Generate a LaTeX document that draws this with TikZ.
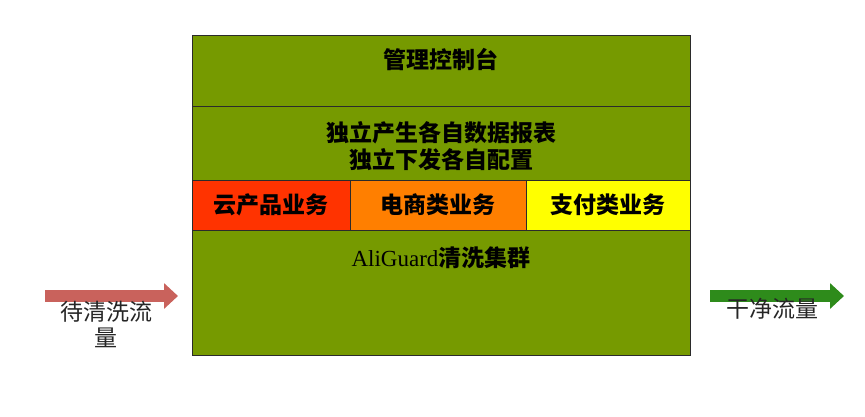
\documentclass[tikz,border=0pt]{standalone}
\usepackage{fontspec}
\setmainfont{Liberation Serif}
\newfontfamily\cjk{Noto Sans CJK SC}
\usetikzlibrary{arrows.meta,positioning}
\definecolor{leaf}{HTML}{769A00}
\definecolor{rust}{HTML}{FF3300}
\definecolor{amber}{HTML}{FF7F00}
\definecolor{lemon}{HTML}{FFFF00}
\definecolor{edge}{HTML}{2B2B2B}
\definecolor{dirty}{HTML}{C9625C}
\definecolor{clean}{HTML}{2E8B1B}
\tikzset{tier/.style={draw=edge,fill=leaf,line width=0.9pt,minimum width=498pt,inner sep=0pt,outer sep=0pt,align=center,font=\cjk\bfseries\fontsize{23}{26}\selectfont}, cell/.style={tier,minimum height=50pt}, lab/.style={inner sep=0pt,align=center,font=\cjk\bfseries\fontsize{23}{26.5}\selectfont}, flow/.style={-{Triangle[length=14pt,width=25pt]},line width=12pt}, flowtxt/.style={inner sep=0pt,align=center,text=black!85,font=\cjk\fontsize{23}{26}\selectfont}}
\begin{document}
\begin{tikzpicture}[x=1pt,y=-1pt]
\useasboundingbox (0,0) rectangle (865,416);
\node[tier,minimum height=71pt] (console) at (441,70.5) {};
\node[lab] (consolelab) at ([yshift=-25pt]console.north) {管理控制台};
\node[tier,minimum height=74pt,below=0pt of console] (report) {};
\node[lab] (reportlab) at ([yshift=-40pt]report.north) {独立产生各自数据报表\\独立下发各自配置};
\node[cell,fill=rust,minimum width=158pt,below right=0pt and 0pt of report.south west] (cloud) {云产品业务};
\node[cell,fill=amber,minimum width=176pt,right=0pt of cloud] (ecom) {电商类业务};
\node[cell,fill=lemon,minimum width=164pt,right=0pt of ecom] (pay) {支付类业务};
\node[tier,minimum height=125pt,anchor=north] (cluster) at (report.south |- cloud.south) {};
\node[lab] (clusterlab) at ([yshift=-27.5pt]cluster.north) {{\rmfamily\mdseries AliGuard}清洗集群};
% traffic in and out
\coordinate (src) at (45,296);
\coordinate (sink) at (844,296);
\draw[flow,dirty,shorten >=14pt] (src) -- (src -| cluster.west);
\draw[flow,clean,shorten <=20pt] (sink -| cluster.east) -- (sink);
\node[flowtxt] (dirtylab) at (106,324) {待清洗流\\量};
\node[flowtxt] (cleanlab) at (772,309) {干净流量};
\end{tikzpicture}
\end{document}
